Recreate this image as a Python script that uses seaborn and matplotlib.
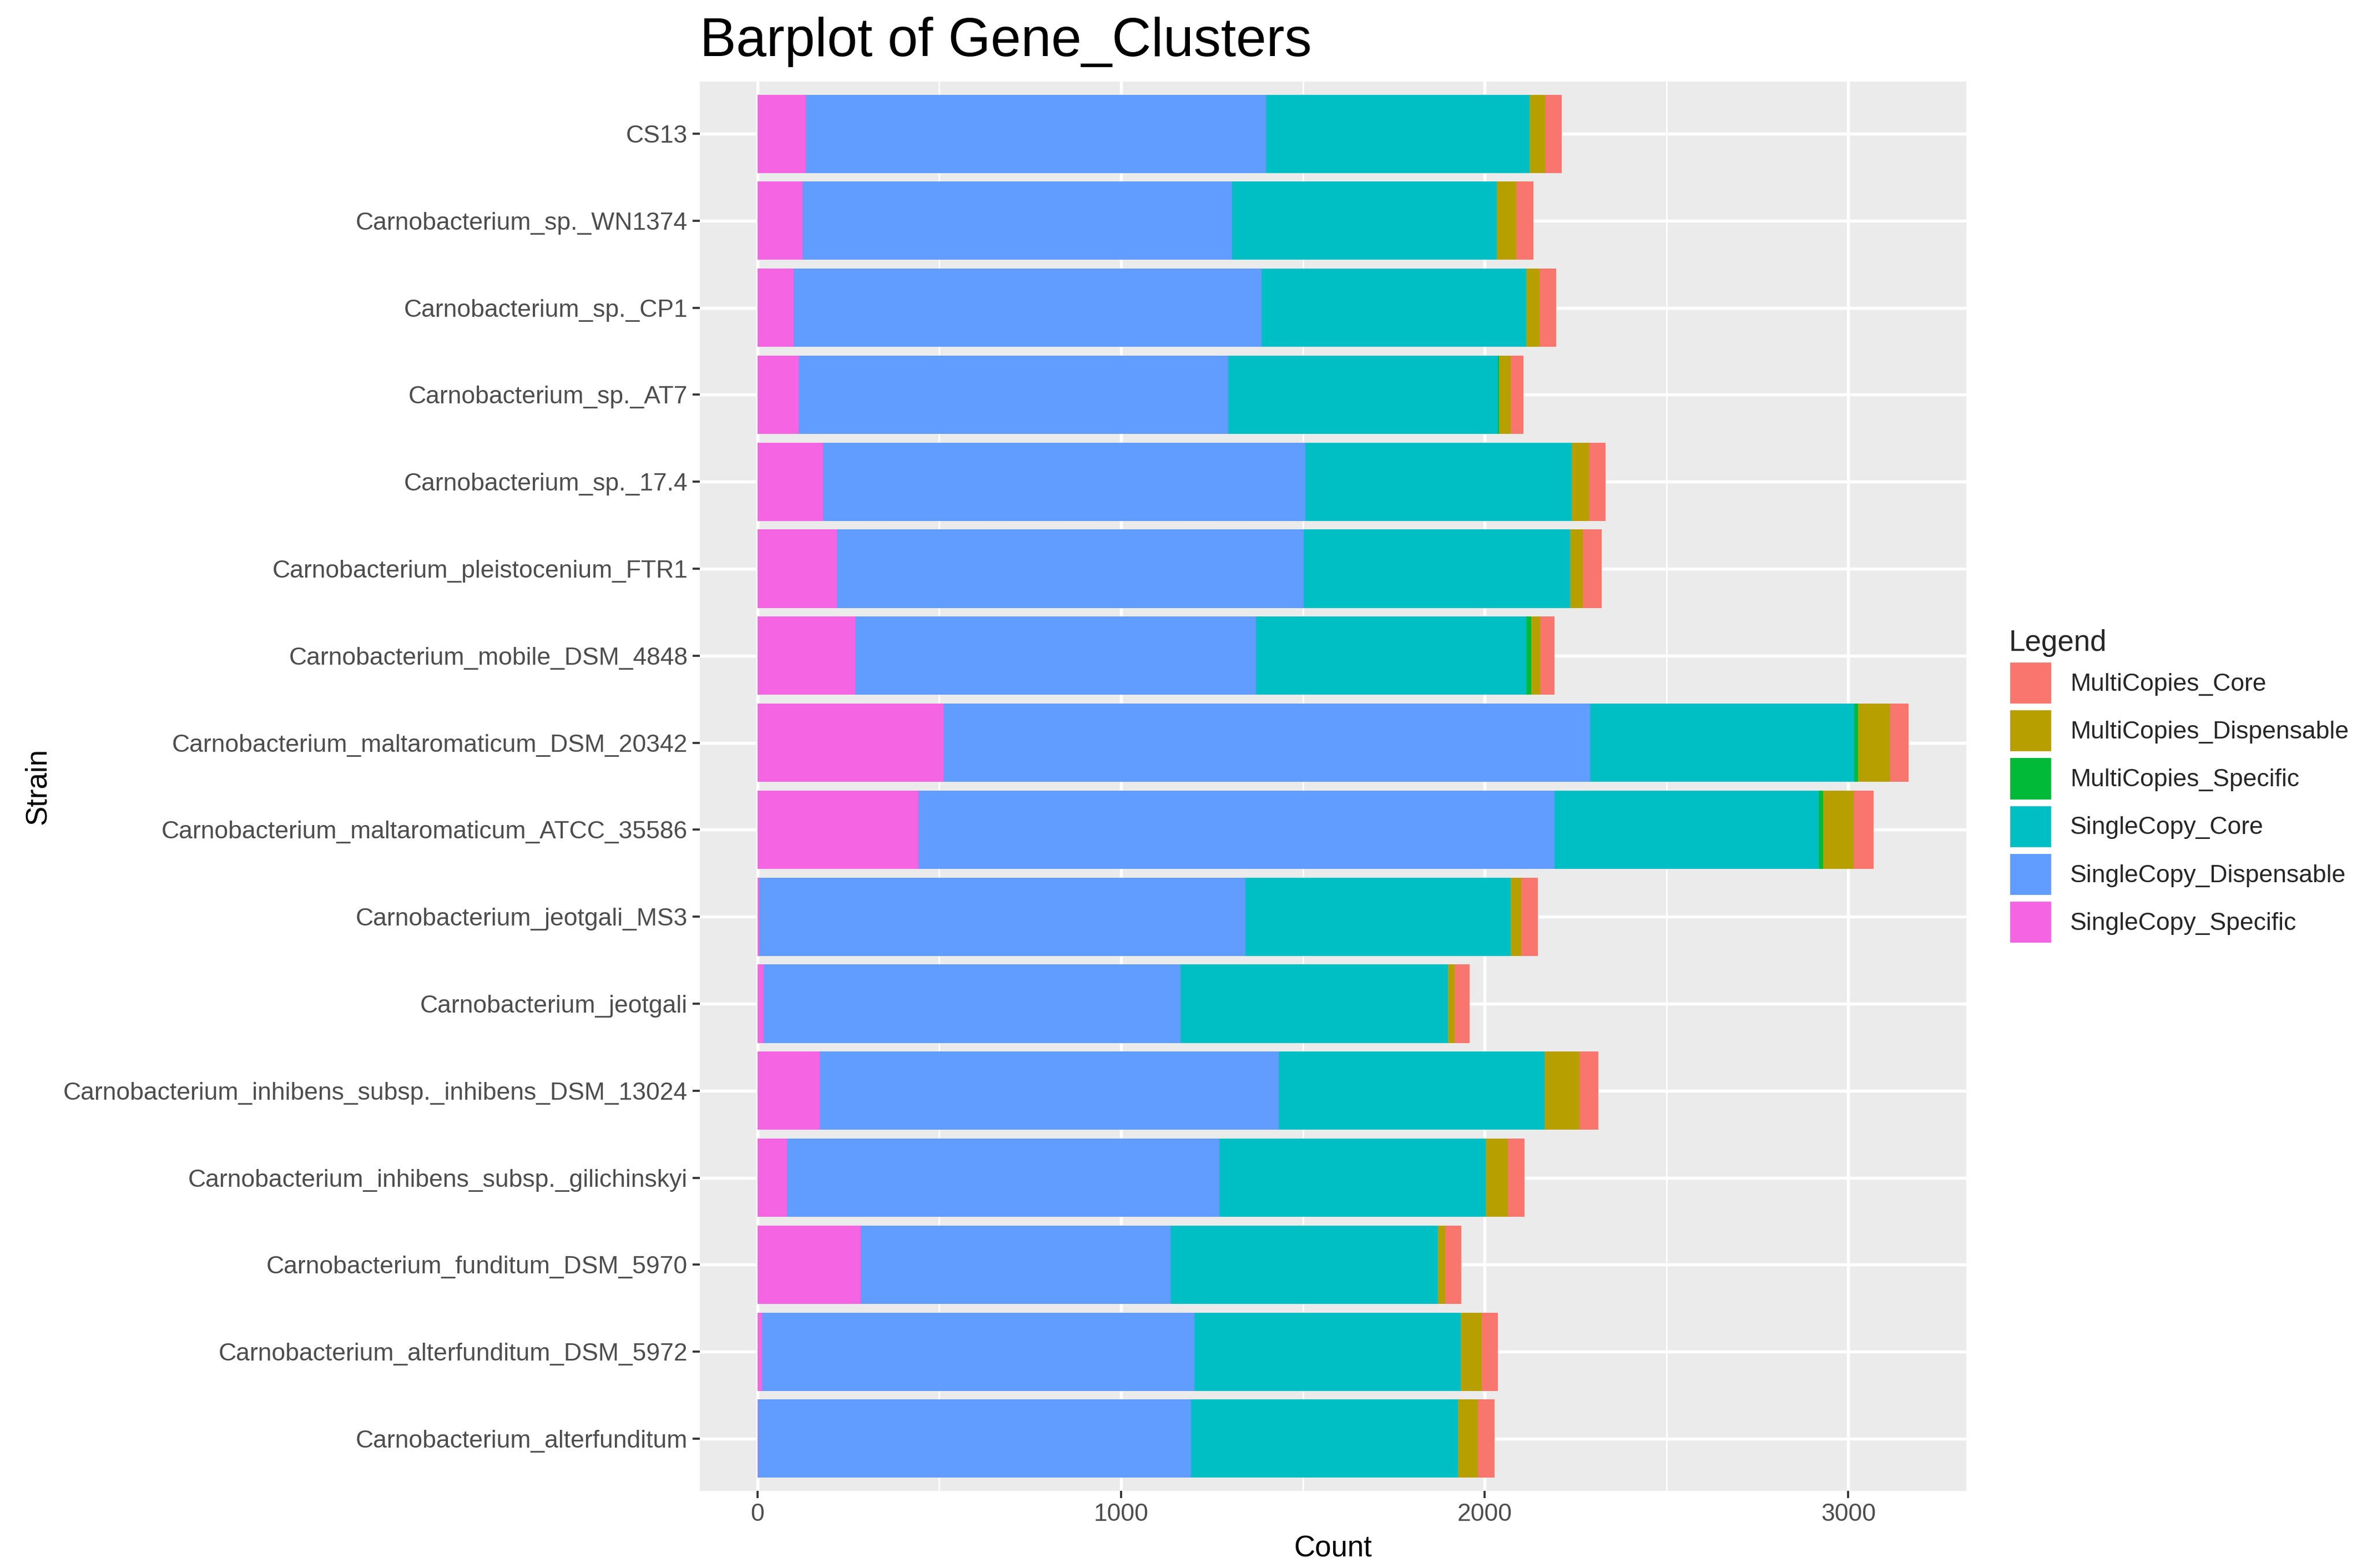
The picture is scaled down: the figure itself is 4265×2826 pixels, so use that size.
import pandas as pd
import matplotlib.pyplot as plt
import seaborn as sns
from matplotlib.patches import Patch

# ---------------- DATA ----------------

strains = [
    "CS13",
    "Carnobacterium_sp._WN1374",
    "Carnobacterium_sp._CP1",
    "Carnobacterium_sp._AT7",
    "Carnobacterium_sp._17.4",
    "Carnobacterium_pleistocenium_FTR1",
    "Carnobacterium_mobile_DSM_4848",
    "Carnobacterium_maltaromaticum_DSM_20342",
    "Carnobacterium_maltaromaticum_ATCC_35586",
    "Carnobacterium_jeotgali_MS3",
    "Carnobacterium_jeotgali",
    "Carnobacterium_inhibens_subsp._inhibens_DSM_13024",
    "Carnobacterium_inhibens_subsp._gilichinskyi",
    "Carnobacterium_funditum_DSM_5970",
    "Carnobacterium_alterfunditum_DSM_5972",
    "Carnobacterium_alterfunditum",
]

single_specific = [133, 124, 100, 113, 181, 219, 269, 511, 443, 5, 17, 172, 81, 285, 13, 2]
single_dispensable = [1265, 1181, 1286, 1181, 1325, 1283, 1102, 1778, 1749, 1337, 1146, 1262, 1189, 851, 1189, 1190]
single_core = [726, 728, 728, 743, 733, 732, 743, 727, 727, 729, 736, 730, 733, 735, 732, 735]
multi_specific = [0, 0, 0, 3, 0, 0, 14, 11, 12, 0, 0, 0, 0, 0, 0, 0]
multi_dispensable = [42, 53, 37, 31, 48, 36, 25, 86, 84, 29, 18, 96, 60, 20, 58, 55]
multi_core = [46, 48, 46, 35, 46, 52, 39, 53, 54, 46, 41, 52, 46, 44, 44, 45]

legend_order = ["MultiCopies_Core", "MultiCopies_Dispensable", "MultiCopies_Specific",
                "SingleCopy_Core", "SingleCopy_Dispensable", "SingleCopy_Specific"]
colors = ["#F8766D", "#B79F00", "#00BA38", "#00BFC4", "#619CFF", "#F564E3"]
palette = dict(zip(legend_order, colors))

df = pd.DataFrame({
    "Strain": strains,
    "SingleCopy_Specific": single_specific,
    "SingleCopy_Dispensable": single_dispensable,
    "SingleCopy_Core": single_core,
    "MultiCopies_Specific": multi_specific,
    "MultiCopies_Dispensable": multi_dispensable,
    "MultiCopies_Core": multi_core,
})

# stacking from the left goes in reverse legend order (ggplot style)
stack_order = legend_order[::-1]
for i, cat in enumerate(stack_order):
    df[cat + "_cum"] = df[stack_order[:i + 1]].sum(axis=1)

# ---------------- STYLE ----------------

sns.set_theme(style="darkgrid", rc={
    "axes.facecolor": "#EBEBEB",
    "grid.color": "white",
    "axes.edgecolor": "none",
})
plt.rcParams["font.family"] = ["Liberation Sans", "DejaVu Sans"]

fig = plt.figure(figsize=(4265 / 300, 2826 / 300), dpi=300)
ax = fig.add_axes([1261 / 4265, 1 - 2687 / 2826, (3543 - 1261) / 4265, (2687 - 147) / 2826])

# draw the tallest cumulative first, smaller ones on top
for cat in reversed(stack_order):
    sns.barplot(data=df, x=cat + "_cum", y="Strain", order=strains, orient="h",
                color=palette[cat], saturation=1, width=0.9, linewidth=0,
                errorbar=None, ax=ax)

total_max = df["MultiCopies_Core_cum"].max()
ax.set_xlim(-0.05 * total_max, total_max * 1.05)
ax.set_ylim(len(strains) - 0.4, -0.6)

ax.set_xticks([0, 1000, 2000, 3000])
ax.set_xticks([500, 1500, 2500], minor=True)
ax.grid(True, which="major", color="white", linewidth=1.3)
ax.grid(True, which="minor", axis="x", color="white", linewidth=0.65)
ax.set_axisbelow(True)
for s in ax.spines.values():
    s.set_visible(False)

ax.tick_params(axis="both", which="major", length=3.2, width=0.9, color="#333333",
               labelsize=10.7, labelcolor="#4D4D4D", pad=2, bottom=True, left=True)
ax.tick_params(axis="x", which="minor", length=0)

ax.set_xlabel("Count", fontsize=12.7, color="black", labelpad=4)
ax.set_ylabel("Strain", fontsize=12.7, color="black", labelpad=5)

ax.set_title("Barplot of Gene_Clusters", fontsize=23.6, loc="left", pad=11, color="black")

handles = [Patch(facecolor=palette[c], edgecolor="white", linewidth=1.0, label=c) for c in legend_order]
leg = fig.legend(handles=handles, title="Legend", loc="upper left",
                 bbox_to_anchor=(3620 / 4265, 1 - 1134 / 2826), frameon=False,
                 fontsize=10.7, title_fontsize=12.7, handlelength=1.75, handleheight=2.32,
                 labelspacing=0.18, handletextpad=0.72, borderpad=0, borderaxespad=0,
                 alignment="left")

fig.savefig("out.png", dpi=300, facecolor="white")
